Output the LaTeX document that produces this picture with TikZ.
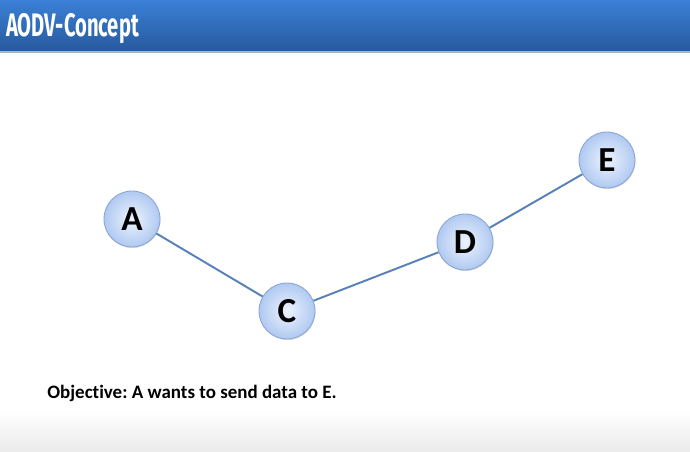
\documentclass[tikz,border=0pt]{standalone}
\usepackage{fontspec}
\setmainfont[Ligatures=NoCommon]{Carlito}
\newfontfamily\titlefont{Fira Sans}
\usetikzlibrary{positioning,shadows}

\definecolor{barTop}{HTML}{3A80D6}
\definecolor{barBot}{HTML}{275A9E}
\definecolor{nodeIn}{HTML}{EDF3FE}
\definecolor{nodeOut}{HTML}{B0C9F1}
\definecolor{nodeRim}{HTML}{8AA6D6}
\definecolor{linkCol}{HTML}{5681BA}

\begin{document}
\frenchspacing
\begin{tikzpicture}[
  x=0.02cm, y=-0.02cm,
  peer/.style={circle, draw=nodeRim, line width=0.5pt, minimum size=1.12cm, inner sep=0pt,
    inner color=nodeIn, outer color=nodeOut, font=\bfseries\fontsize{20}{20}\selectfont,
    drop shadow={shadow xshift=0.3pt, shadow yshift=-0.6pt, opacity=0.25}},
  link/.style={draw=linkCol, line width=1.1pt}
]
\useasboundingbox (0,0) rectangle (690,452);
% background
\fill[white] (0,0) rectangle (690,452);
\shade[top color=white, bottom color=black!8] (0,410) rectangle (690,452);
% title bar
\fill[black!30] (0,50) rectangle (690,53);
\shade[top color=barTop, bottom color=barBot] (0,0) rectangle (690,51);
\node[anchor=base west, text=white, inner sep=0pt, xscale=0.62, transform shape,
  font=\titlefont\bfseries\fontsize{18.5}{18.5}\selectfont] (title) at (6,37) {AODV-Concept};

% nodes
\node[peer] (A) at (132,219) {A};
\node[peer] (C) at (287,311) {C};
\node[peer] (D) at (465,242) {D};
\node[peer] (E) at (607,160) {E};

% links
\draw[link] (A) -- (C);
\draw[link] (C) -- (D);
\draw[link] (D) -- (E);

\node[anchor=base west, inner sep=0pt, font=\bfseries\fontsize{10.8}{12}\selectfont] (goal) at (47,399)
  {Objective: A wants to send data to E.};
\end{tikzpicture}
\end{document}
